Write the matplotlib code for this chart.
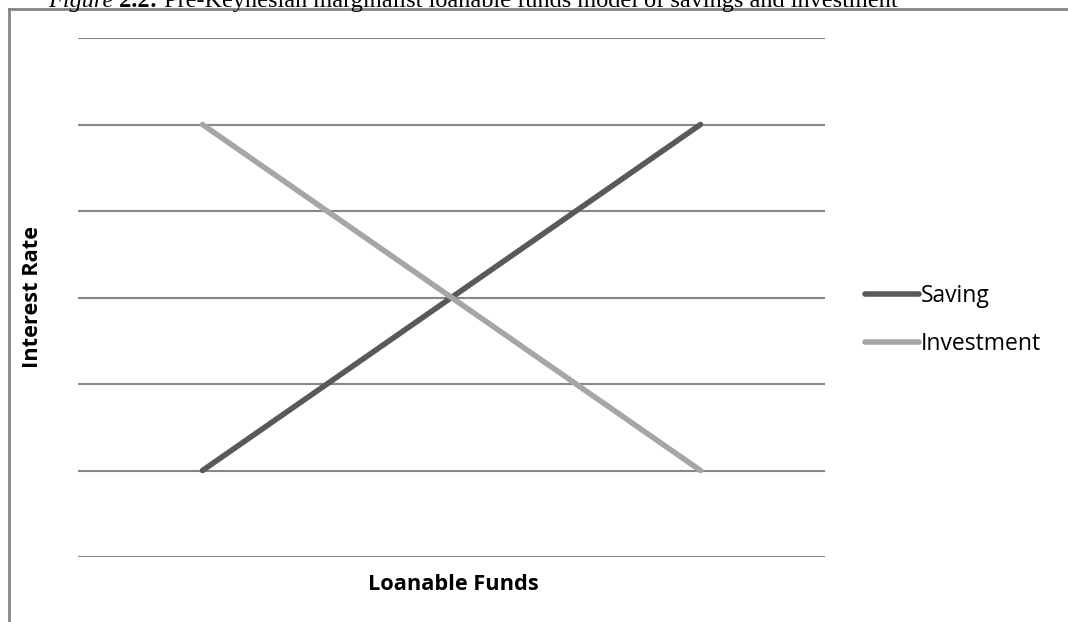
import matplotlib
matplotlib.use("Agg")
import matplotlib.pyplot as plt
from matplotlib.lines import Line2D

# Data
categories = ["1", "2", "3"]
saving = [1, 3, 5]
investment = [5, 3, 1]
series_names = ["Saving", "Investment"]
title_parts = ["Figure", " 2.2:", " Pre-Keynesian marginalist loanable funds model of savings and investment"]

W, H = 1068, 622
fig = plt.figure(figsize=(W / 100, H / 100), dpi=100)
ax = fig.add_axes([78 / W, 1 - 557 / H, (825 - 78) / W, (557 - 38) / H])

x = list(range(len(categories)))
ax.plot(x, saving, color="#595959", lw=4, solid_capstyle="round", label=series_names[0], zorder=3)
ax.plot(x, investment, color="#a6a6a6", lw=4, solid_capstyle="round", label=series_names[1], zorder=3)

ax.set_xlim(-0.5, len(categories) - 0.5)
ax.set_ylim(0, 6)
ax.set_yticks(range(0, 7))
ax.set_xticks([])
ax.yaxis.grid(True, color="#878787", lw=1.5)
ax.tick_params(left=False, labelleft=False)
for s in ax.spines.values():
    s.set_visible(False)

lab_font = "Open Sans"
fig.text(32 / W, 1 - 297 / H, "Interest Rate", rotation=90, ha="center", va="center",
         fontsize=15.7, fontweight="bold", family=lab_font)
fig.text(453 / W, 1 - 584 / H, "Loanable Funds", ha="center", va="center",
         fontsize=15.7, fontweight="bold", family=lab_font)

handles = [Line2D([0], [0], color="#595959", lw=4, solid_capstyle="round"),
           Line2D([0], [0], color="#a6a6a6", lw=4, solid_capstyle="round")]
fig.legend(handles, series_names, loc="center left", bbox_to_anchor=(865 / W, 1 - 320 / H),
           frameon=False, prop={"family": lab_font, "size": 16.5},
           handlelength=2.35, handletextpad=0.08, labelspacing=1.05, borderpad=0, borderaxespad=0)

# Frame lines (top and left border)
fig.add_artist(Line2D([9 / W, 9 / W], [0, 1 - 9 / H], color="#868686", lw=2, transform=fig.transFigure))
fig.add_artist(Line2D([9 / W, 1], [1 - 9 / H, 1 - 9 / H], color="#868686", lw=2, transform=fig.transFigure))

# Clipped title at the very top
fs = 17.5
base = 1 - 7 / H
t = fig.text(48 / W, base, title_parts[0], ha="left", va="baseline", fontsize=fs,
             family="Liberation Serif", style="italic")
fig.canvas.draw()
r = fig.canvas.get_renderer()
bb = t.get_window_extent(r)
t2 = fig.text(bb.x1 / W, base, title_parts[1], ha="left", va="baseline", fontsize=fs,
              family="Liberation Serif", fontweight="bold")
bb2 = t2.get_window_extent(r)
fig.text(bb2.x1 / W, base, title_parts[2], ha="left", va="baseline", fontsize=fs,
         family="Liberation Serif")

fig.savefig("out.png", dpi=100)
